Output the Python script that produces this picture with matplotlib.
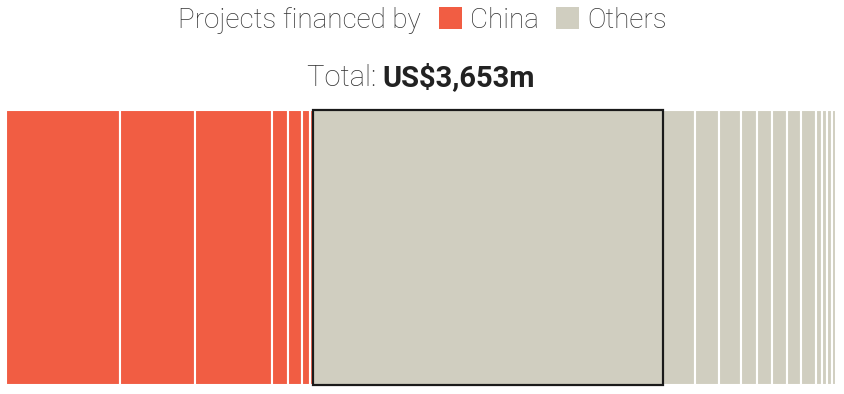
import matplotlib.pyplot as plt
from matplotlib.patches import Rectangle

# project values (US$m)
china_values = [501, 331, 339, 69, 60, 36, 13]
other_values = [1540, 143, 104, 96, 70, 70, 62, 62, 68, 26, 24, 20, 19]
legend_labels = ["China", "Others"]
total_label = "US$3,653m"

china_color = "#F15D43"
other_color = "#D0CEC0"

plt.rcParams["font.family"] = ["Roboto", "DejaVu Sans"]

W, H = 844, 394
fig = plt.figure(figsize=(W / 100, H / 100), dpi=100)

# axes spans the strip (pixel coords converted to figure fractions)
x0, x1 = 6.3, 836.3
y0, y1 = 384.7, 110.3
ax = fig.add_axes([x0 / W, (H - y0) / H, (x1 - x0) / W, (y0 - y1) / H])
ax.set_axis_off()

values = china_values + other_values
colors = [china_color] * len(china_values) + [other_color] * len(other_values)
left = 0
for i, (v, c) in enumerate(zip(values, colors)):
    ax.barh(0.5, v, height=1, left=left, color=c, edgecolor="white", linewidth=1.5)
    if i == len(china_values):
        # the largest project gets a dark outline
        ax.add_patch(Rectangle((left, 0), v, 1, fill=False, edgecolor="#1a1a1a",
                               linewidth=1.6, clip_on=False, zorder=5))
    left += v
ax.set_xlim(0, sum(values))
ax.set_ylim(0, 1)

def px(x, y):
    return x / W, 1 - y / H

# header row: "Projects financed by" + legend squares
fs = 20
tc = "#333333"
fig.text(*px(178, 28.3), "Projects financed by", fontsize=fs, fontweight="light",
         color=tc, ha="left", va="baseline")
for (sx, tx), lab, col in zip([(439, 470), (556, 587)], legend_labels,
                              [china_color, other_color]):
    fig.patches.append(Rectangle(px(sx, 29), 23 / W, 22 / H, transform=fig.transFigure,
                                 facecolor=col, edgecolor="none"))
    fig.text(*px(tx, 28.3), lab, fontsize=fs, fontweight="light", color=tc,
             ha="left", va="baseline")

# total line, centred, with bold amount
fs2 = 21
fig.canvas.draw()
r = fig.canvas.get_renderer()
t1 = fig.text(0, 0, "Total: ", fontsize=fs2, fontweight="light", color=tc, va="baseline")
t2 = fig.text(0, 0, total_label, fontsize=fs2, fontweight="bold", color="#222222",
              va="baseline")
w1 = t1.get_window_extent(r).width
w2 = t2.get_window_extent(r).width
start = (W - w1 - w2) / 2 - 1
t1.set_position(px(start, 86))
t2.set_position(px(start + w1, 86))

fig.savefig("out.png", dpi=100)
